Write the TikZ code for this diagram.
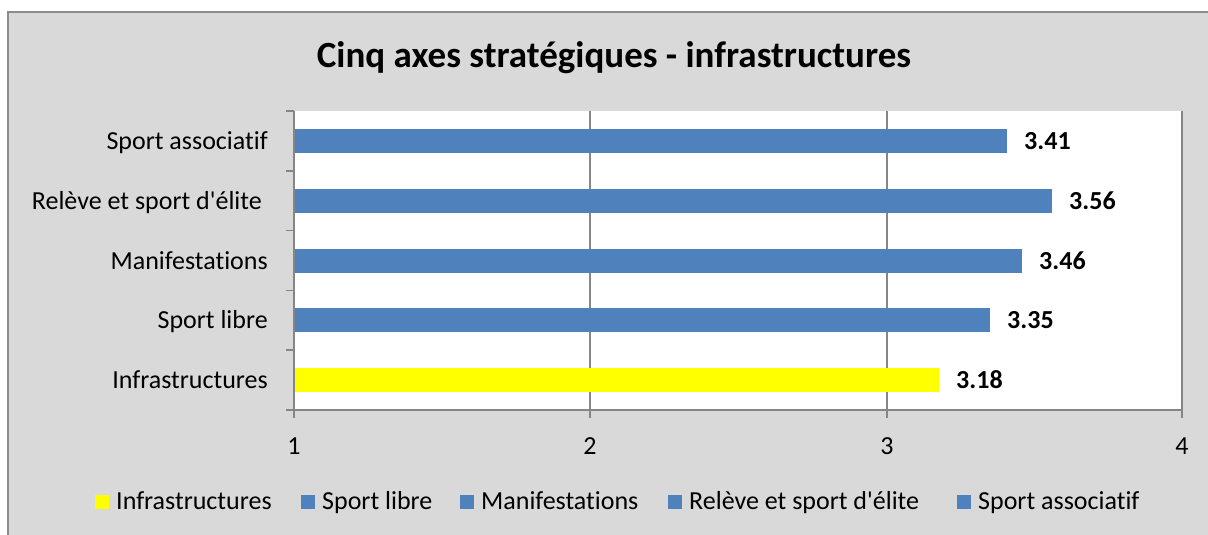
\documentclass[tikz,border=0pt]{standalone}
\usepackage{fontspec}
\setmainfont{Carlito}[Ligatures={NoCommon}]
\definecolor{bgray}{HTML}{D9D9D9}
\definecolor{barblue}{HTML}{4F81BD}
\definecolor{baryellow}{HTML}{FFFF00}
\definecolor{axisgray}{HTML}{868686}
\definecolor{framegray}{HTML}{8C8C8C}
\begin{document}
\begin{tikzpicture}[x=1pt,y=-1pt,
  lbl/.style={font=\fontsize{26}{30}\selectfont, inner sep=0pt},
  val/.style={font=\fontsize{26}{30}\selectfont\bfseries, inner sep=0pt, anchor=base west},
  ttl/.style={font=\fontsize{37}{44}\selectfont\bfseries, inner sep=0pt, anchor=base},
  axisline/.style={draw=axisgray, line width=1.6pt},
  gridline/.style={draw=axisgray, line width=1.3pt},
  legbox/.style={draw=none, minimum width=14pt, minimum height=14pt, inner sep=0pt, anchor=west}
]
\useasboundingbox (0,0) rectangle (1208,535);
\fill[white] (-10,-10) rectangle (1230,550);
\fill[bgray] (8,12) rectangle (1230,550);
\draw[framegray, line width=1.5pt] (8,550) -- (8,12) -- (1230,12);
% plot area
\fill[white] (294,111) rectangle (1182,410);
% gridlines
\draw[gridline] (590,111) -- (590,410);
\draw[gridline] (887,111) -- (887,410);
\draw[gridline] (1182,111) -- (1182,410);
% title
\node[ttl] (title) at (614,67) {Cinq axes stratégiques - infrastructures};
% bars
\fill[barblue]   (294,128.9) rectangle (1007,152.9);
\fill[barblue]   (294,188.7) rectangle (1052,212.7);
\fill[barblue]   (294,248.5) rectangle (1022,272.5);
\fill[barblue]   (294,308.3) rectangle (990,332.3);
\fill[baryellow] (294,368.1) rectangle (939,392.1);
% value labels
\node[val] (v1) at (1024,149.5) {3.41};
\node[val] (v2) at (1069,209.3) {3.56};
\node[val] (v3) at (1039,269.1) {3.46};
\node[val] (v4) at (1007,328.9) {3.35};
\node[val] (v5) at (956,388.7) {3.18};
% category labels
\node[lbl, anchor=base east] (c1) at (268,149.5) {Sport associatif};
\node[lbl, anchor=base east] (c2) at (262,209.3) {Relève et sport d\textquotesingle élite};
\node[lbl, anchor=base east] (c3) at (268,269.1) {Manifestations};
\node[lbl, anchor=base east] (c4) at (268,328.9) {Sport libre};
\node[lbl, anchor=base east] (c5) at (268,388.7) {Infrastructures};
% axes
\draw[axisline] (294,111) -- (294,418);
\draw[axisline] (286,410) -- (1182,410) -- (1182,418);
\foreach \yy in {111,170.8,230.6,290.4,350.2}
  \draw[axisline] (286,\yy) -- (294,\yy);
\foreach \xx in {590,887}
  \draw[axisline] (\xx,410) -- (\xx,418);
% tick labels
\node[lbl, anchor=base] (t1) at (294,454) {1};
\node[lbl, anchor=base] (t2) at (590,454) {2};
\node[lbl, anchor=base] (t3) at (887,454) {3};
\node[lbl, anchor=base] (t4) at (1182,454) {4};
% legend
\node[legbox, fill=baryellow] (l1) at (95,501.5) {};
\node[lbl, anchor=base west] (lt1) at (116,509) {Infrastructures};
\node[legbox, fill=barblue] (l2) at (301,501.5) {};
\node[lbl, anchor=base west] (lt2) at (322,509) {Sport libre};
\node[legbox, fill=barblue] (l3) at (460,501.5) {};
\node[lbl, anchor=base west] (lt3) at (481,509) {Manifestations};
\node[legbox, fill=barblue] (l4) at (668,501.5) {};
\node[lbl, anchor=base west] (lt4) at (689,509) {Relève et sport d\textquotesingle élite};
\node[legbox, fill=barblue] (l5) at (957,501.5) {};
\node[lbl, anchor=base west] (lt5) at (978,509) {Sport associatif};
\end{tikzpicture}
\end{document}
